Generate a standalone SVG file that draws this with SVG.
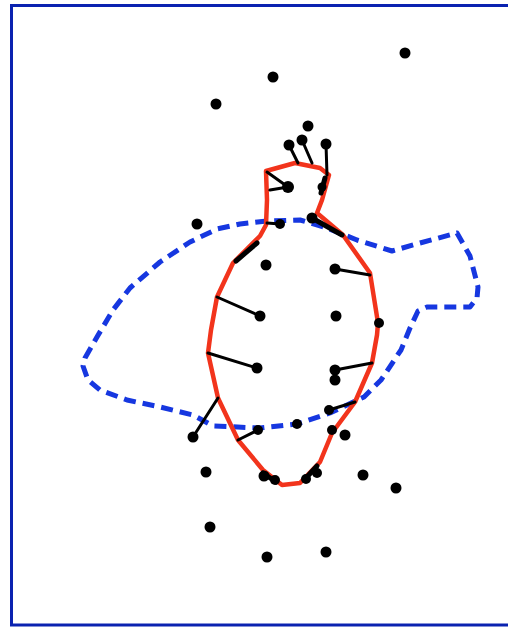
<svg xmlns="http://www.w3.org/2000/svg" width="508" height="627" viewBox="0 0 508 627">
<style>
.dot{fill:#000}
.link{stroke:#000;stroke-width:3;fill:none;stroke-linecap:round}
.thick{stroke:#000;stroke-width:5;fill:none;stroke-linecap:round}
.red{stroke:#f2341c;stroke-width:4.5;fill:none;stroke-linejoin:round}
.blue{stroke:#1637e0;stroke-width:5;fill:none;stroke-dasharray:12 7;stroke-linejoin:round}
.frame{stroke:#0a22b0;stroke-width:3;fill:none}
</style>
<rect width="508" height="627" fill="#fff"/>
<rect class="frame" x="11.5" y="5.5" width="500" height="619.5"/>
<g id="blue-outline">
<path class="blue" d="M85,358 L97,337 L113,310 L130,288 L160,262 L190,242 L217,229 L240,224 L267,221 L300,220 L327,228 L357,240 L392,251 L420,243 L457,233 L470,256 L478,287 L477,298 L470,307 L427,307 L418,311 L410,328 L401,350 L381,380 L364,397 L330,413 L297,424 L260,428 L213,426 L193,415 L160,407 L127,400 L100,390 L88,380 L83,366 Z"/>
</g>
<g id="red-outline">
<path class="red" d="M266,171 L295,163 L320,168 L329,175 L322,200 L317,213 L343,235 L370,273 L378,323 L377,335 L372,363 L355,402 L332,433 L320,462 L300,483 L282,485 L263,470 L238,440 L218,398 L208,353 L211,330 L217,297 L233,263 L260,236 L266,225 L267,200 Z"/>
</g>
<g id="connectors">
<line class="link" x1="289" y1="145" x2="298" y2="163"/>
<line class="link" x1="302" y1="140" x2="312" y2="163"/>
<line class="link" x1="326" y1="144" x2="327" y2="175"/>
<line class="link" x1="288" y1="187" x2="267" y2="172"/>
<line class="link" x1="288" y1="187" x2="270" y2="190"/>
<line class="thick" x1="325" y1="178" x2="321" y2="193"/>
<line class="link" x1="267" y1="223" x2="280" y2="224"/>
<line class="thick" x1="312" y1="218" x2="342" y2="235"/>
<line class="thick" x1="236" y1="261" x2="257" y2="243"/>
<line class="link" x1="217" y1="297" x2="260" y2="316"/>
<line class="link" x1="335" y1="269" x2="370" y2="275"/>
<line class="link" x1="208" y1="353" x2="257" y2="368"/>
<line class="link" x1="372" y1="363" x2="335" y2="370"/>
<line class="link" x1="218" y1="398" x2="193" y2="437"/>
<line class="link" x1="238" y1="440" x2="258" y2="430"/>
<line class="link" x1="355" y1="402" x2="329" y2="410"/>
<line class="thick" x1="263" y1="473" x2="276" y2="482"/>
<line class="thick" x1="305" y1="479" x2="317" y2="466"/>
</g>
<g id="nodes">
<circle id="n1" class="dot" cx="405" cy="53" r="5.5"/>
<circle id="n2" class="dot" cx="273" cy="77" r="5.5"/>
<circle id="n3" class="dot" cx="216" cy="104" r="5.5"/>
<circle id="n4" class="dot" cx="308" cy="126" r="5.5"/>
<circle id="n5" class="dot" cx="302" cy="140" r="5.5"/>
<circle id="n6" class="dot" cx="289" cy="145" r="5.5"/>
<circle id="n7" class="dot" cx="326" cy="144" r="5.5"/>
<circle id="n8" class="dot" cx="288" cy="187" r="6"/>
<circle id="n9" class="dot" cx="322" cy="187" r="4.5"/>
<circle id="n10" class="dot" cx="197" cy="224" r="5.5"/>
<circle id="n11" class="dot" cx="280" cy="224" r="5"/>
<circle id="n12" class="dot" cx="312" cy="218" r="5.5"/>
<circle id="n13" class="dot" cx="266" cy="265" r="5.5"/>
<circle id="n14" class="dot" cx="335" cy="269" r="5.5"/>
<circle id="n15" class="dot" cx="260" cy="316" r="5.5"/>
<circle id="n16" class="dot" cx="336" cy="316" r="5.5"/>
<circle id="n17" class="dot" cx="379" cy="323" r="5"/>
<circle id="n18" class="dot" cx="257" cy="368" r="5.5"/>
<circle id="n19" class="dot" cx="335" cy="370" r="5.5"/>
<circle id="n20" class="dot" cx="335" cy="380" r="5.5"/>
<circle id="n21" class="dot" cx="193" cy="437" r="5.5"/>
<circle id="n22" class="dot" cx="258" cy="430" r="5"/>
<circle id="n23" class="dot" cx="297" cy="424" r="5"/>
<circle id="n24" class="dot" cx="329" cy="410" r="5"/>
<circle id="n25" class="dot" cx="332" cy="430" r="5"/>
<circle id="n26" class="dot" cx="345" cy="435" r="5.5"/>
<circle id="n27" class="dot" cx="206" cy="472" r="5.5"/>
<circle id="n28" class="dot" cx="264" cy="476" r="5.5"/>
<circle id="n29" class="dot" cx="275" cy="480" r="5"/>
<circle id="n30" class="dot" cx="306" cy="479" r="5"/>
<circle id="n31" class="dot" cx="317" cy="473" r="5"/>
<circle id="n32" class="dot" cx="363" cy="475" r="5.5"/>
<circle id="n33" class="dot" cx="396" cy="488" r="5.5"/>
<circle id="n34" class="dot" cx="210" cy="527" r="5.5"/>
<circle id="n35" class="dot" cx="267" cy="557" r="5.5"/>
<circle id="n36" class="dot" cx="326" cy="552" r="5.5"/>
</g>
</svg>
